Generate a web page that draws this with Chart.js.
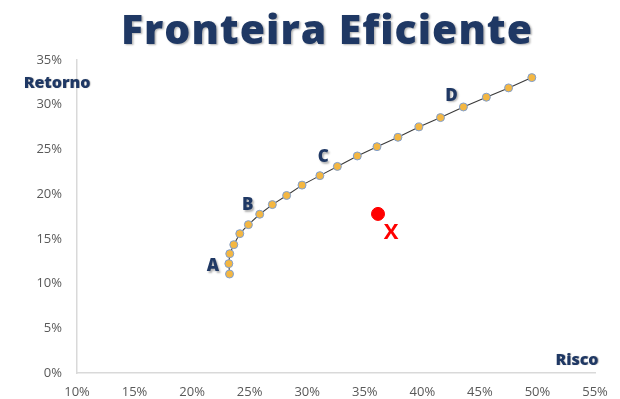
<!DOCTYPE html>
<html>
<head>
<meta charset="utf-8">
<script src="https://cdn.jsdelivr.net/npm/chart.js@4"></script>
<style>
  html, body { margin: 0; padding: 0; background: #fff; }
  #wrap { width: 620px; height: 399px; position: relative; }
</style>
</head>
<body>
<div id="wrap"><canvas id="chart"></canvas></div>
<script>
// Efficient frontier: risk (x) vs return (y), in percent
const riskValues = [23.25, 23.19, 23.27, 23.62, 24.14, 24.89, 25.87, 26.97, 28.21, 29.55, 31.10,
  32.62, 34.35, 36.06, 37.88, 39.70, 41.58, 43.57, 45.56, 47.49, 49.51];
const returnValues = [11.07, 12.23, 13.34, 14.35, 15.58, 16.59, 17.75, 18.83, 19.85, 21.01, 22.07,
  23.10, 24.27, 25.31, 26.36, 27.52, 28.56, 29.75, 30.84, 31.88, 33.03];

// Single portfolio off the frontier
const portfolioRisk = [36.15];
const portfolioReturn = [17.79];

// Named points along the frontier
const markerNames = ['A', 'B', 'C', 'D'];
const markerIndex = [1, 6, 11, 17];

const xTicks = [10, 15, 20, 25, 30, 35, 40, 45, 50, 55];
const yTicks = [0, 5, 10, 15, 20, 25, 30, 35];

const NAVY = '#1f3864';

const frontier = riskValues.map((x, i) => ({ x, y: returnValues[i] }));
const portfolio = portfolioRisk.map((x, i) => ({ x, y: portfolioReturn[i] }));

const textPlugin = {
  id: 'texts',
  afterDraw(chart) {
    const { ctx, scales: { x, y } } = chart;
    ctx.save();

    // title
    ctx.shadowColor = 'rgba(0,0,0,0.3)';
    ctx.shadowOffsetX = 1.5;
    ctx.shadowOffsetY = 1.5;
    ctx.shadowBlur = 2;
    ctx.fillStyle = NAVY;
    ctx.textAlign = 'center';
    ctx.textBaseline = 'middle';
    ctx.font = '800 41px "Open Sans"';
    ctx.letterSpacing = '1px';
    ctx.fillText('Fronteira Eficiente', 327, 32);
    ctx.letterSpacing = '0px';

    // point letters
    ctx.font = '800 17px "Open Sans"';
    const offs = [[-16, 3], [-12, -9], [-14, -9], [-12, -11]];
    markerIndex.forEach((idx, k) => {
      const px = x.getPixelForValue(riskValues[idx]);
      const py = y.getPixelForValue(returnValues[idx]);
      ctx.fillText(markerNames[k], px + offs[k][0], py + offs[k][1]);
    });

    // axis titles
    ctx.shadowOffsetX = 0.8;
    ctx.shadowOffsetY = 0.8;
    ctx.shadowBlur = 1;
    ctx.font = '800 16px "Open Sans"';
    ctx.fillText('Retorno', 57, 83);
    ctx.fillText('Risco', 577, 360);

    // portfolio label
    ctx.shadowColor = 'transparent';
    ctx.fillStyle = '#ff0000';
    ctx.font = 'bold 22px "Open Sans"';
    const rx = x.getPixelForValue(portfolioRisk[0]);
    const ry = y.getPixelForValue(portfolioReturn[0]);
    ctx.fillText('X', rx + 13, ry + 19);
    ctx.restore();
  }
};

new Chart(document.getElementById('chart'), {
  type: 'scatter',
  data: {
    datasets: [
      {
        label: 'Fronteira',
        data: frontier,
        showLine: true,
        borderColor: '#3a3a3a',
        borderWidth: 1.1,
        pointRadius: 4,
        pointBackgroundColor: '#f4b742',
        pointBorderColor: '#7f9fd0',
        pointBorderWidth: 1,
        order: 2,
      },
      {
        label: 'Carteira',
        data: portfolio,
        pointRadius: 6.5,
        pointBackgroundColor: '#ff0000',
        pointBorderColor: '#ff0000',
        order: 1,
      },
    ],
  },
  options: {
    responsive: true, maintainAspectRatio: false, animation: false,
    layout: { padding: { top: 60, right: 25, left: 0, bottom: 0 } },
    plugins: { legend: { display: false }, tooltip: { enabled: false } },
    scales: {
      x: {
        type: 'linear', min: 10, max: 55,
        afterBuildTicks: s => { s.ticks = xTicks.map(v => ({ value: v })); },
        afterFit: s => { s.height = 26; },
        ticks: { color: '#595959', font: { family: 'Open Sans', size: 13 }, padding: 11, callback: v => v + '%', maxRotation: 0 },
        grid: { display: false, drawTicks: false },
        border: { color: '#d9d9d9', width: 1.5 },
      },
      y: {
        type: 'linear', min: 0, max: 35,
        afterBuildTicks: s => { s.ticks = yTicks.map(v => ({ value: v })); },
        afterFit: s => { s.width = 77; },
        ticks: { color: '#595959', font: { family: 'Open Sans', size: 13 }, padding: 15, callback: v => v + '%' },
        grid: { display: false, drawTicks: false },
        border: { color: '#d9d9d9', width: 1.5 },
      },
    },
  },
  plugins: [textPlugin],
});
</script>
</body>
</html>
